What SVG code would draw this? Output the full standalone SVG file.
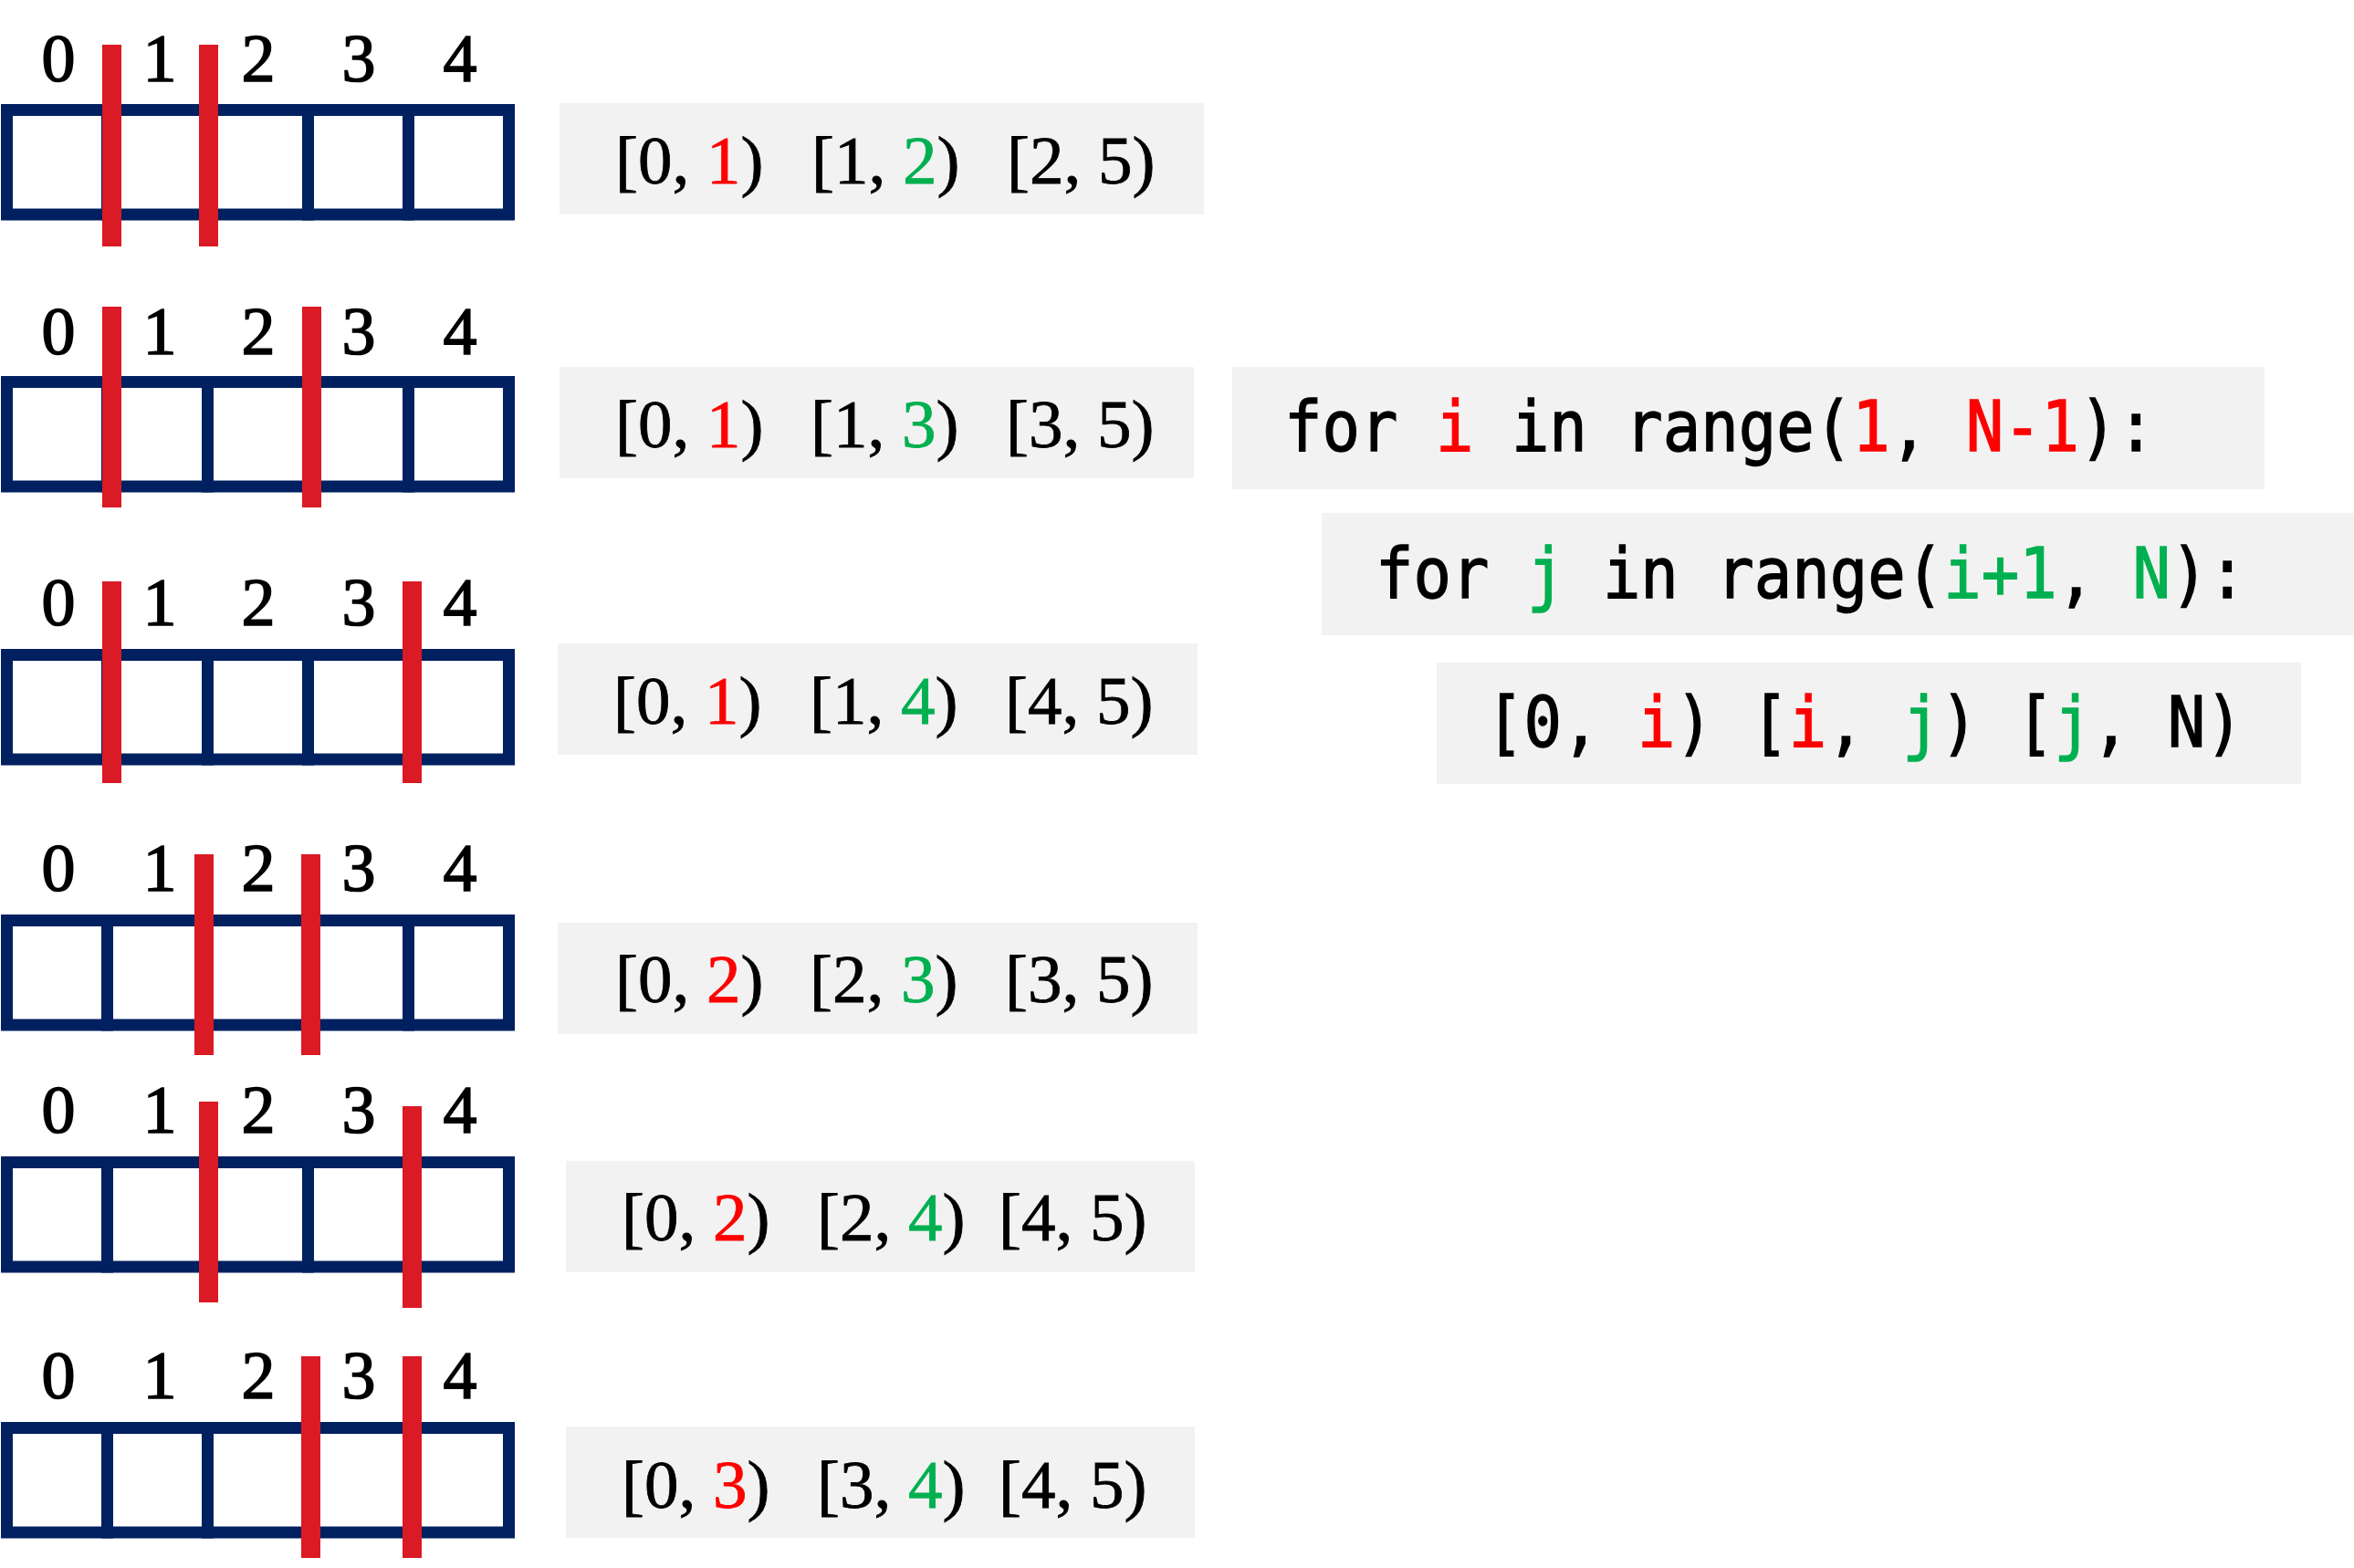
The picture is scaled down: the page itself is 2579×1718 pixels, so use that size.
<svg xmlns="http://www.w3.org/2000/svg" xmlns:xlink="http://www.w3.org/1999/xlink" width="2579" height="1718" viewBox="0 0 2579 1718">
  <style>
    .cell { fill: none; stroke: #002060; stroke-width: 13; }
    .cut { fill: #DA1A24; }
    .idx { font-family: "Liberation Serif", "DejaVu Serif", serif; font-size: 74px; fill: #000; stroke: #000; stroke-width: 1.6; text-anchor: middle; }
    .panel { fill: #F2F2F2; }
    .rng { font-family: "Liberation Serif", "DejaVu Serif", serif; font-size: 75px; fill: #000; stroke: #000; stroke-width: 0.8; }
    .code { font-family: "DejaVu Sans Mono", "Liberation Mono", monospace; font-size: 77px; fill: #000; stroke: #000; stroke-width: 1.4; }
    .r { fill: #FF0000; stroke: #FF0000; }
    .g { fill: #00B050; stroke: #00B050; }
  </style>
  <defs>
    <!-- five-cell array, drawn from its top edge -->
    <g id="array">
      <rect class="cell" x="7.5" y="6.5" width="550" height="114.5"/>
      <path class="cell" d="M117.5 0V127.5M227.5 0V127.5M337.5 0V127.5M447.5 0V127.5"/>
    </g>
    <g id="labels">
      <text class="idx" x="64">0</text>
      <text class="idx" x="175">1</text>
      <text class="idx" x="283">2</text>
      <text class="idx" x="393">3</text>
      <text class="idx" x="504">4</text>
    </g>
  </defs>

  <rect width="2579" height="1718" fill="#FFFFFF"/>

  <!-- split 1 | 2 -->
  <g id="row1">
    <use xlink:href="#labels" href="#labels" y="89"/>
    <use xlink:href="#array" href="#array" y="114"/>
    <rect class="cut" x="112" y="49" width="21" height="221"/>
    <rect class="cut" x="218" y="49" width="21" height="221"/>
    <rect class="panel" x="613" y="113" width="706" height="122"/>
    <text class="rng" y="201"><tspan x="674">[0, <tspan class="r">1</tspan>)</tspan><tspan x="889">[1, <tspan class="g">2</tspan>)</tspan><tspan x="1103">[2, 5)</tspan></text>
  </g>

  <!-- split 1 | 3 -->
  <g id="row2">
    <use xlink:href="#labels" href="#labels" y="388"/>
    <use xlink:href="#array" href="#array" y="412"/>
    <rect class="cut" x="112" y="336" width="21" height="220"/>
    <rect class="cut" x="331" y="336" width="21" height="220"/>
    <rect class="panel" x="613" y="402" width="695" height="122"/>
    <text class="rng" y="490"><tspan x="674">[0, <tspan class="r">1</tspan>)</tspan><tspan x="888">[1, <tspan class="g">3</tspan>)</tspan><tspan x="1102">[3, 5)</tspan></text>
  </g>

  <!-- split 1 | 4 -->
  <g id="row3">
    <use xlink:href="#labels" href="#labels" y="685"/>
    <use xlink:href="#array" href="#array" y="711"/>
    <rect class="cut" x="112" y="637" width="21" height="221"/>
    <rect class="cut" x="441" y="637" width="21" height="221"/>
    <rect class="panel" x="611" y="705" width="701" height="122"/>
    <text class="rng" y="793"><tspan x="672">[0, <tspan class="r">1</tspan>)</tspan><tspan x="887">[1, <tspan class="g">4</tspan>)</tspan><tspan x="1101">[4, 5)</tspan></text>
  </g>

  <!-- split 2 | 3 -->
  <g id="row4">
    <use xlink:href="#labels" href="#labels" y="976"/>
    <use xlink:href="#array" href="#array" y="1002"/>
    <rect class="cut" x="213" y="936" width="21" height="220"/>
    <rect class="cut" x="330" y="936" width="21" height="220"/>
    <rect class="panel" x="611" y="1011" width="701" height="122"/>
    <text class="rng" y="1098"><tspan x="674">[0, <tspan class="r">2</tspan>)</tspan><tspan x="887">[2, <tspan class="g">3</tspan>)</tspan><tspan x="1101">[3, 5)</tspan></text>
  </g>

  <!-- split 2 | 4 -->
  <g id="row5">
    <use xlink:href="#labels" href="#labels" y="1241"/>
    <use xlink:href="#array" href="#array" y="1267"/>
    <rect class="cut" x="218" y="1207" width="21" height="220"/>
    <rect class="cut" x="441" y="1212" width="21" height="221"/>
    <rect class="panel" x="620" y="1272" width="689" height="122"/>
    <text class="rng" y="1359"><tspan x="681">[0, <tspan class="r">2</tspan>)</tspan><tspan x="895">[2, <tspan class="g">4</tspan>)</tspan><tspan x="1094">[4, 5)</tspan></text>
  </g>

  <!-- split 3 | 4 -->
  <g id="row6">
    <use xlink:href="#labels" href="#labels" y="1532"/>
    <use xlink:href="#array" href="#array" y="1558"/>
    <rect class="cut" x="330" y="1486" width="21" height="221"/>
    <rect class="cut" x="441" y="1486" width="21" height="221"/>
    <rect class="panel" x="620" y="1563" width="689" height="122"/>
    <text class="rng" y="1652"><tspan x="681">[0, <tspan class="r">3</tspan>)</tspan><tspan x="895">[3, <tspan class="g">4</tspan>)</tspan><tspan x="1094">[4, 5)</tspan></text>
  </g>

  <!-- nested loop pseudo-code -->
  <g id="loop-i">
    <rect class="panel" x="1350" y="402" width="1131" height="134"/>
    <text class="code" transform="translate(1407 494) scale(0.895 1)">for <tspan class="r">i</tspan> in range(<tspan class="r">1</tspan>, <tspan class="r">N-1</tspan>):</text>
  </g>
  <g id="loop-j">
    <rect class="panel" x="1448" y="562" width="1131" height="134"/>
    <text class="code" transform="translate(1507 655) scale(0.895 1)">for <tspan class="g">j</tspan> in range(<tspan class="g">i+1</tspan>, <tspan class="g">N</tspan>):</text>
  </g>
  <g id="segments">
    <rect class="panel" x="1574" y="726" width="947" height="133"/>
    <text class="code" transform="translate(1628 818) scale(0.895 1)">[0, <tspan class="r">i</tspan>) [<tspan class="r">i</tspan>, <tspan class="g">j</tspan>) [<tspan class="g">j</tspan>, N)</text>
  </g>
</svg>
